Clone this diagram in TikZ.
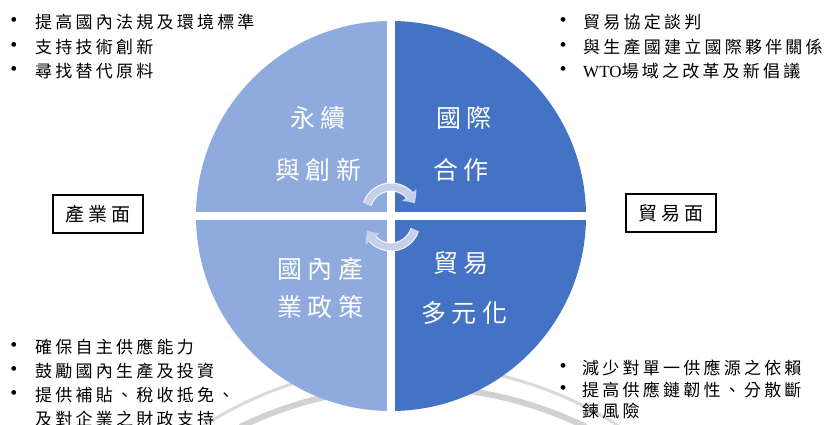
\documentclass[tikz,border=0pt]{standalone}
\usepackage{fontspec}
\setmainfont{Liberation Serif}
\newfontfamily\cjk[LetterSpace=19]{Noto Sans CJK TC}
\newfontfamily\cjkbig[LetterSpace=22]{Noto Sans CJK TC}
\usetikzlibrary{arrows.meta,bending}
\definecolor{lightq}{HTML}{8FAADC}
\definecolor{darkq}{HTML}{4472C4}
\definecolor{cyc}{RGB}{197,208,234}
\definecolor{arcgray}{RGB}{218,218,218}
\definecolor{arcgrayb}{RGB}{210,210,210}
\begin{document}
\begin{tikzpicture}[x=1pt,y=1pt,
 item/.style={anchor=west,inner sep=0pt,font=\fontsize{17}{17}\cjk},
 bul/.style={inner sep=0pt,font=\fontsize{20}{20}\selectfont},
 qlabel/.style={text=white,inner sep=0pt,font=\fontsize{25}{25}\cjkbig},
 sidebox/.style={draw=black,line width=1.2pt,minimum width=90pt,minimum height=38pt,inner sep=0pt,font=\fontsize{19}{19}\cjk},
 cycarrow/.style={line width=7pt,draw=cyc,-{Triangle[width=18pt,length=10pt,bend]}}
]
\useasboundingbox (0,0) rectangle (827,-425);
\fill[white] (0,0) rectangle (827,-425);
% background arcs
\draw[arcgray,line width=3pt] (411,-749) ++(123:384) arc[start angle=123,end angle=57,radius=384];
\draw[arcgrayb,line width=6pt] (413,-781) ++(116:394) arc[start angle=116,end angle=64,radius=394];
% quadrants
\coordinate (c) at (391,-216);
\fill[lightq] (c) -- ++(0,195) arc[start angle=90,end angle=180,radius=195] -- cycle;
\fill[darkq] (c) -- ++(195,0) arc[start angle=0,end angle=90,radius=195] -- cycle;
\fill[lightq] (c) -- ++(-195,0) arc[start angle=180,end angle=270,radius=195] -- cycle;
\fill[darkq] (c) -- ++(0,-195) arc[start angle=270,end angle=360,radius=195] -- cycle;
\draw[white,line width=8pt] (391,-15) -- (391,-417);
\draw[white,line width=8pt] (190,-216) -- (592,-216);
% cycle arrows
\draw[white,line width=9pt] (391,-212) ++(162:25) arc[start angle=162,end angle=38,radius=25];
\draw[cycarrow] (391,-212) ++(162:25) arc[start angle=162,end angle=20,radius=25];
\draw[white,line width=9pt] (391,-222) ++(-18:25) arc[start angle=-18,end angle=-142,radius=25];
\draw[cycarrow] (391,-222) ++(-18:25) arc[start angle=-18,end angle=-160,radius=25];
% quadrant labels
\node[qlabel] (q1a) at (318,-118) {永續};
\node[qlabel] (q1b) at (318,-170) {與創新};
\node[qlabel] (q2a) at (464,-118) {國際};
\node[qlabel] (q2b) at (461,-170) {合作};
\node[qlabel] (q3a) at (320,-269) {國內產};
\node[qlabel] (q3b) at (320,-307) {業政策};
\node[qlabel] (q4a) at (461,-263) {貿易};
\node[qlabel] (q4b) at (464,-313) {多元化};
% side boxes
\node[sidebox] (ind) at (98,-214) {產業面};
\node[sidebox] (trd) at (671,-213) {貿易面};
% top-left list
\node[bul] (b11) at (14,-22) {•}; \node[item] (t11) at (35,-22) {提高國內法規及環境標準};
\node[bul] (b12) at (14,-47) {•}; \node[item] (t12) at (35,-47) {支持技術創新};
\node[bul] (b13) at (14,-71) {•}; \node[item] (t13) at (35,-71) {尋找替代原料};
% top-right list
\node[bul] (b21) at (563,-22) {•}; \node[item] (t21) at (583,-22) {貿易協定談判};
\node[bul] (b22) at (563,-47) {•}; \node[item] (t22) at (583,-47) {與生產國建立國際夥伴關係};
\node[bul] (b23) at (563,-71) {•}; \node[item] (t23) at (583,-71) {{\fontsize{17}{17}\rmfamily WTO}場域之改革及新倡議};
% bottom-left list
\node[bul] (b31) at (14,-347) {•}; \node[item] (t31) at (35,-347) {確保自主供應能力};
\node[bul] (b32) at (14,-371) {•}; \node[item] (t32) at (35,-371) {鼓勵國內生產及投資};
\node[bul] (b33) at (14,-395) {•}; \node[item] (t33) at (35,-395) {提供補貼、稅收抵免、};
\node[item] (t34) at (35,-419) {及對企業之財政支持};
% bottom-right list
\node[bul] (b41) at (563,-368) {•}; \node[item] (t41) at (582,-368) {減少對單一供應源之依賴};
\node[bul] (b42) at (563,-390) {•}; \node[item] (t42) at (582,-390) {提高供應鏈韌性、分散斷};
\node[item] (t43) at (582,-411) {鍊風險};
\end{tikzpicture}
\end{document}
